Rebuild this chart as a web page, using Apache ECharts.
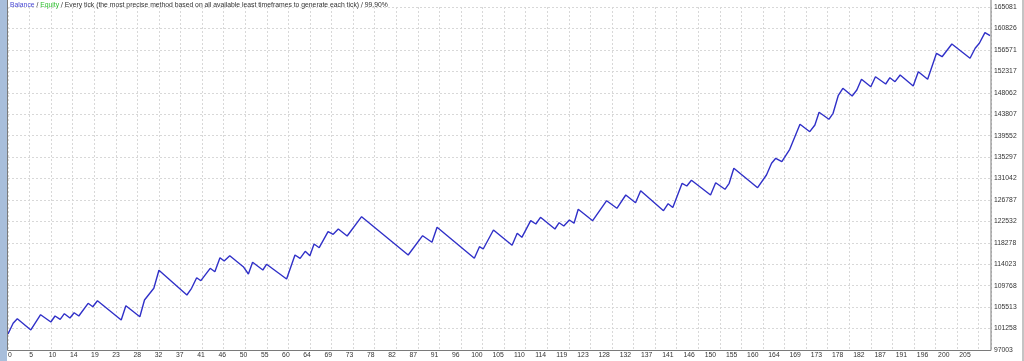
<!DOCTYPE html>
<html>
<head>
<meta charset="utf-8">
<script src="https://cdn.jsdelivr.net/npm/echarts@6/dist/echarts.min.js"></script>
<style>
html,body{margin:0;padding:0;background:#fff;}
#chart{width:1024px;height:361px;}
</style>
</head>
<body>
<div id="chart"></div>
<script>
// Trade number of each vertex of the balance line
var tradeNo = [0,1.1,2.0,4.9,7.0,9.2,10.1,11.2,12.1,13.3,14.2,15.2,17.2,18.2,19.2,24.3,25.3,28.3,29.3,31.3,32.4,38.4,39.4,40.5,41.4,43.4,44.4,45.5,46.4,47.6,50.5,51.6,52.5,54.7,55.5,59.8,61.6,62.7,63.8,64.8,65.7,66.8,68.7,69.8,70.9,72.8,75.9,85.9,89.0,91.0,92.1,100.1,101.2,102.0,104.2,108.2,109.3,110.3,112.2,113.3,114.3,117.4,118.3,119.3,120.5,121.5,122.4,125.5,128.5,130.7,132.6,134.7,135.8,140.7,141.7,142.7,144.7,145.7,146.7,150.8,151.9,153.9,154.8,155.8,160.9,162.8,163.9,164.8,166.1,167.8,170.0,172.1,173.2,174.1,176.2,177.1,178.2,179.2,181.2,182.2,183.2,185.2,186.2,188.4,189.3,190.4,191.5,194.3,195.4,197.4,199.3,200.5,202.6,206.5,207.6,208.5,209.7,210.8];
// Balance at each vertex
var balance = [100180,102302,103215,100973,104009,102560,103751,103096,104208,103354,104406,103751,106272,105597,106788,102957,105796,103612,106927,109249,112822,107919,109249,111353,110758,113219,112544,115323,114668,115720,113536,112087,114410,112881,114013,111095,115859,115204,116593,115720,118042,117308,120483,119967,121019,119630,123460,115859,119689,118379,121357,115204,117506,117049,120821,117784,120166,119372,122667,122011,123341,121019,122269,121615,122805,122150,124929,122667,126636,125128,127767,126239,128621,124651,126041,125286,130090,129554,130685,127767,130209,128899,130090,133067,129216,131737,134059,135052,134377,136838,141800,140331,141661,144182,142792,143983,147477,148945,147417,148608,150732,149263,151248,149799,151049,150255,151585,149402,152240,150732,155892,155217,157738,154900,156884,157877,159981,159385];
// Axis tick labels
var xLabels = ['0','5','10','14','19','23','28','32','37','41','46','50','55','60','64','69','73','78','82','87','91','96','100','105','110','114','119','123','128','132','137','141','146','150','155','160','164','169','173','178','182','187','191','196','200','205'];
var yLabels = ['97003','101258','105513','109768','114023','118278','122532','126787','131042','135297','139552','143807','148062','152317','156571','160826','165081'];
var tradeMax = 211;
var yMin = 97003, yMax = 165081;

var points = tradeNo.map(function(t, i){ return [t, balance[i]]; });

var font = 'Liberation Sans';
var fs = 6.8;
var chart = echarts.init(document.getElementById('chart'), null, {renderer:'canvas'});
chart.setOption({
  animation: false,
  backgroundColor: '#ffffff',
  grid: {left: 8, right: 33, top: 7, bottom: 11, containLabel: false},
  xAxis: [
    { // labels axis
      type: 'value', min: 0, max: 46.32, interval: 1, position: 'bottom',
      axisLine: {show: false}, axisTick: {show: false}, splitLine: {show: false},
      axisLabel: {show: true, margin: 2, fontSize: fs, fontFamily: font, color: '#333',
        padding: [0,0,0,4],
        formatter: function(v){ var k = Math.round(v); return (Math.abs(v-k) < 0.01 && xLabels[k] !== undefined) ? xLabels[k] : ''; }}
    },
    { // grid axis
      type: 'value', min: 0, max: 45.57, interval: 1, position: 'bottom',
      axisLine: {show: false}, axisTick: {show: false}, axisLabel: {show: false},
      splitLine: {show: true, lineStyle: {color: '#d8d8d8', width: 1, type: [2, 2]}}
    },
    { // data axis
      type: 'value', min: 0, max: tradeMax, show: false
    }
  ],
  yAxis: [
    { type: 'value', min: yMin, max: yMax, show: false },
    {
      type: 'value', min: 0, max: 16, interval: 1, position: 'right',
      axisLine: {show: false}, axisTick: {show: false},
      splitLine: {show: true, lineStyle: {color: '#d8d8d8', width: 1, type: [2, 2]}},
      axisLabel: {show: true, margin: 3, fontSize: fs, fontFamily: font, color: '#333',
        formatter: function(v){ var k = Math.round(v); return yLabels[k] !== undefined ? yLabels[k] : ''; }}
    }
  ],
  series: [{
    type: 'line', xAxisIndex: 2, yAxisIndex: 0, data: points,
    showSymbol: false, symbol: 'none',
    lineStyle: {color: '#3030c8', width: 1.4},
    z: 5
  }],
  graphic: [
    {type: 'rect', shape: {x: 0, y: 0, width: 7, height: 361}, style: {fill: '#a8bedb'}, z: 10},
    {type: 'rect', shape: {x: 1022, y: 0, width: 2, height: 361}, style: {fill: '#c4c4c4'}, z: 10},
    {type: 'rect', shape: {x: 7.5, y: -2, width: 983.5, height: 352.5}, style: {fill: 'none', stroke: '#7a7a7a', lineWidth: 1}, z: 10},
    {type: 'text', left: 10, top: 2, z: 11,
      style: {
        text: '{b|Balance} / {e|Equity} / Every tick (the most precise method based on all available least timeframes to generate each tick) / 99.90%',
        fontSize: fs, fontFamily: font, fill: '#333',
        rich: {
          b: {fill: '#4646d2', fontSize: fs, fontFamily: font},
          e: {fill: '#2fbf2f', fontSize: fs, fontFamily: font}
        }
      }
    }
  ]
});
</script>
</body>
</html>
